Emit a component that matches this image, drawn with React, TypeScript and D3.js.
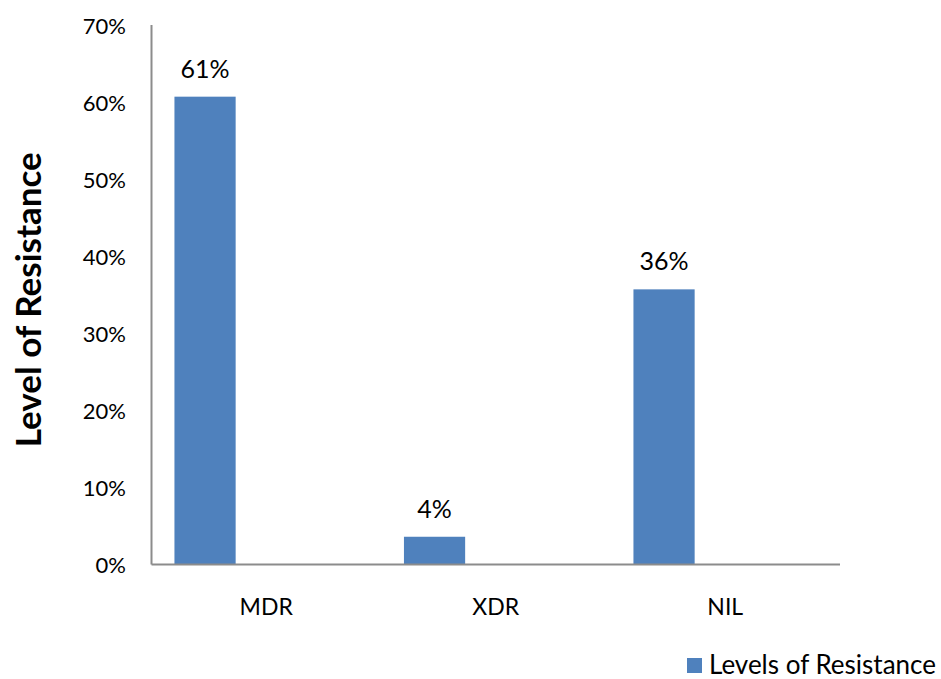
import React from "react";
import * as d3 from "d3";

const categories: string[] = ["MDR", "XDR", "NIL"];
const seriesNames: string[] = ["Levels of Resistance", "s2", "s3"];
const resistanceValues: number[] = [0.607, 0.036, 0.357];
const dataLabels: string[] = ["61%", "4%", "36%"];
const yTicks: number[] = [0, 0.1, 0.2, 0.3, 0.4, 0.5, 0.6, 0.7];

const W = 941;
const H = 679;
const left = 151.5;
const right = 840;
const top = 25;
const bottom = 564.5;
const FONT = "Lato, 'Open Sans', sans-serif";
const BAR = "#4f81bd";
const AXIS = "#8c8c8c";

export default function App() {
  const x = d3.scaleBand<string>().domain(categories).range([left, right]).padding(0);
  const inner = d3
    .scaleBand<string>()
    .domain(seriesNames)
    .range([0, x.bandwidth()])
    .paddingInner(0)
    .paddingOuter(0.375);
  const y = d3.scaleLinear().domain([0, 0.7]).range([bottom, top]);
  const fmt = d3.format(".0%");

  return (
    <svg
      width={W}
      height={H}
      style={{ position: "absolute", left: 0, top: 0, background: "#fff" }}
      fontFamily={FONT}
    >
      {resistanceValues.map((v, i) => {
        const bx = (x(categories[i]) as number) + (inner(seriesNames[0]) as number);
        return (
          <g key={categories[i]}>
            <rect x={bx} y={y(v)} width={inner.bandwidth()} height={y(0) - y(v)} fill={BAR} />
            <text
              x={bx + inner.bandwidth() / 2}
              y={y(v) - 19}
              textAnchor="middle"
              fontSize={25}
              fill="#000"
            >
              {dataLabels[i]}
            </text>
          </g>
        );
      })}
      <line x1={left} x2={left} y1={top} y2={bottom} stroke={AXIS} strokeWidth={2} />
      <line x1={left} x2={right} y1={bottom} y2={bottom} stroke={AXIS} strokeWidth={2} />
      {yTicks.map((t) => (
        <text
          key={t}
          x={126}
          y={y(t)}
          textAnchor="end"
          dominantBaseline="central"
          fontSize={22}
          fill="#000"
        >
          {fmt(t)}
        </text>
      ))}
      {categories.map((c) => (
        <text
          key={c}
          x={(x(c) as number) + x.bandwidth() / 2}
          y={615}
          textAnchor="middle"
          fontSize={23}
          fill="#000"
        >
          {c}
        </text>
      ))}
      <text
        transform={`translate(41, ${(top + bottom) / 2 + 5}) rotate(-90)`}
        textAnchor="middle"
        fontSize={35}
        fontWeight="bold"
        fill="#000"
      >
        Level of Resistance
      </text>
      <rect x={687} y={658} width={15} height={15} fill={BAR} />
      <text x={709} y={674} fontSize={26} fill="#000">
        {seriesNames[0]}
      </text>
    </svg>
  );
}
